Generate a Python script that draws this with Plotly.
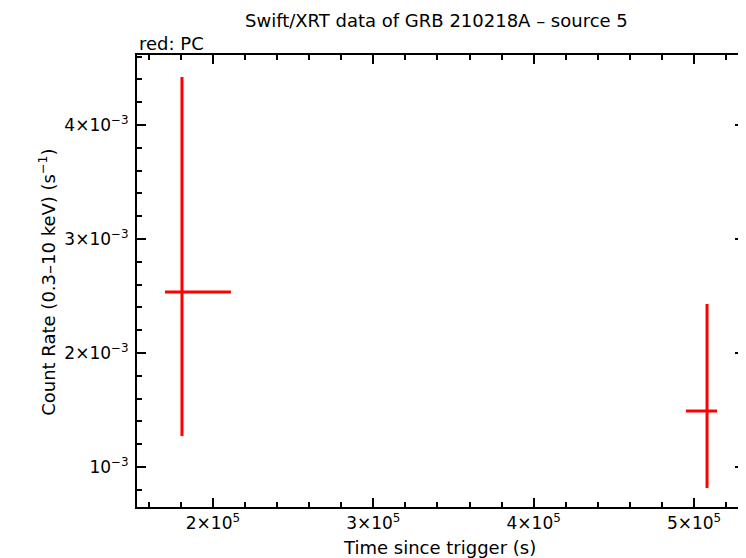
import plotly.graph_objects as go

# Data
t_mid = [180700, 508100]
t_minus = [10600, 13100]
t_plus = [30500, 6200]
rate = [2.535e-3, 1.491e-3]
rate_plus = [1.885e-3, 0.939e-3]
rate_minus = [1.263e-3, 0.675e-3]

x_tickvals = [2e5, 3e5, 4e5, 5e5]
x_ticktext = ["2×10<sup>5</sup>", "3×10<sup>5</sup>", "4×10<sup>5</sup>", "5×10<sup>5</sup>"]
y_tickvals = [1e-3, 2e-3, 3e-3, 4e-3]
y_ticktext = ["10<sup>−3</sup>", "2×10<sup>−3</sup>", "3×10<sup>−3</sup>", "4×10<sup>−3</sup>"]

FONT = "DejaVu Sans, Liberation Sans, Arial, sans-serif"

fig = go.Figure()
fig.add_trace(go.Scatter(
    x=t_mid, y=rate, mode="markers",
    marker=dict(size=1, color="red", opacity=0),
    error_x=dict(type="data", symmetric=False, array=t_plus, arrayminus=t_minus,
                 color="red", thickness=3, width=0),
    error_y=dict(type="data", symmetric=False, array=rate_plus, arrayminus=rate_minus,
                 color="red", thickness=3, width=0),
    showlegend=False, hoverinfo="skip",
))

axis_common = dict(
    showgrid=False, zeroline=False, showline=True, linecolor="black", linewidth=2,
    mirror="allticks", ticks="inside", ticklen=9, tickwidth=2, tickcolor="black",
    tickfont=dict(family=FONT, size=17, color="black"), automargin=False,
)

fig.update_xaxes(
    range=[152650, 531150], tickmode="array", tickvals=x_tickvals, ticktext=x_ticktext,
    minor=dict(ticks="inside", ticklen=5, tickwidth=2, tickcolor="black", tick0=0, dtick=20000),
    **axis_common,
)
fig.update_yaxes(
    range=[0.649e-3, 4.614e-3], tickmode="array", tickvals=y_tickvals, ticktext=y_ticktext,
    minor=dict(ticks="inside", ticklen=5, tickwidth=2, tickcolor="black", tick0=0, dtick=2e-4),
    ticklabelstandoff=3,
    **axis_common,
)

tf = dict(family=FONT, size=18, color="black")
fig.update_layout(
    width=738, height=550,
    margin=dict(l=129, r=2, t=47, b=51, autoexpand=False),
    paper_bgcolor="white", plot_bgcolor="white",
    font=dict(family=FONT, color="black"),
    annotations=[
        dict(text="Swift/XRT data of GRB 210218A – source 5", xref="paper", yref="paper",
             x=0.494, y=1, yshift=35, xanchor="center", yanchor="middle", showarrow=False, font=tf),
        dict(text="red: PC", xref="paper", yref="paper", x=0, y=1, yshift=12,
             xanchor="left", yanchor="middle", showarrow=False, font=tf),
        dict(text="Time since trigger (s)", xref="paper", yref="paper",
             x=0.499, y=0, yshift=-40, xanchor="center", yanchor="middle", showarrow=False, font=tf),
        dict(text="Count Rate (0.3–10 keV) (s<sup>−1</sup>)", xref="paper", yref="paper",
             x=0, y=0.496, xshift=-90, xanchor="center", yanchor="middle", textangle=-90,
             showarrow=False, font=tf),
    ],
)

fig.write_html("out.html")
